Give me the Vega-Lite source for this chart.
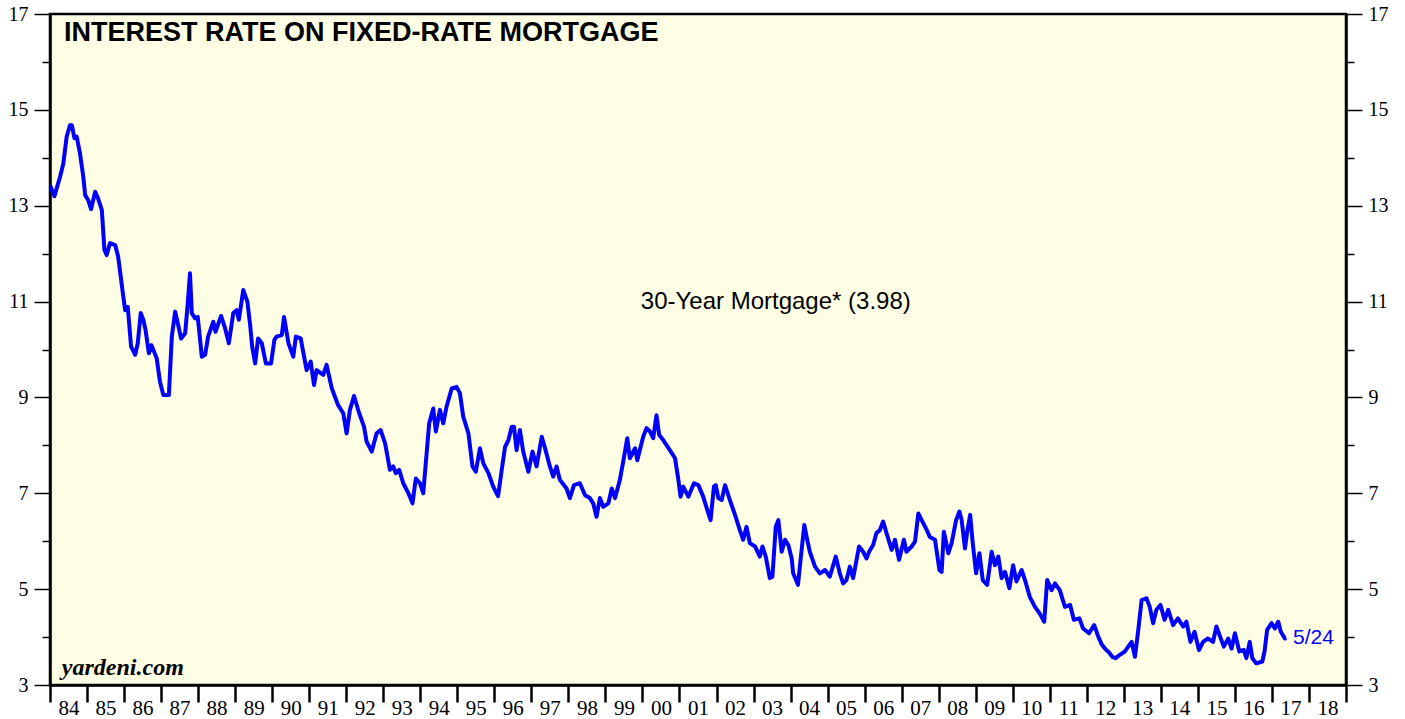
{
 "$schema": "https://vega.github.io/schema/vega-lite/v6.json",
 "width": 1296,
 "height": 671,
 "autosize": {"type": "none"},
 "padding": {"left": 50, "top": 14, "right": 59, "bottom": 34},
 "background": "white",
 "view": {"fill": "#FEFEE4", "stroke": "black", "strokeWidth": 2.5},
 "config": {
  "axis": {"grid": false, "title": null, "domainColor": "black", "domainWidth": 2.5, "tickColor": "black", "labelColor": "black", "labelFont": "Liberation Serif"}
 },
 "layer": [
  {
   "data": {"values": [
  {"year":1984.00,"rate":13.43},{"year":1984.12,"rate":13.2},{"year":1984.27,"rate":13.6},{"year":1984.36,"rate":13.88},{"year":1984.45,"rate":14.44},{"year":1984.54,"rate":14.68},{"year":1984.59,"rate":14.68},{"year":1984.66,"rate":14.41},{"year":1984.72,"rate":14.44},{"year":1984.81,"rate":14.09},{"year":1984.90,"rate":13.6},{"year":1984.95,"rate":13.22},
  {"year":1985.03,"rate":13.12},{"year":1985.11,"rate":12.93},{"year":1985.22,"rate":13.29},{"year":1985.30,"rate":13.15},{"year":1985.40,"rate":12.91},{"year":1985.47,"rate":12.08},{"year":1985.53,"rate":11.97},{"year":1985.62,"rate":12.22},{"year":1985.76,"rate":12.18},{"year":1985.84,"rate":11.94},{"year":1985.98,"rate":11.1},
  {"year":1986.03,"rate":10.82},{"year":1986.10,"rate":10.89},{"year":1986.19,"rate":10.06},{"year":1986.30,"rate":9.89},{"year":1986.37,"rate":10.13},{"year":1986.45,"rate":10.76},{"year":1986.52,"rate":10.62},{"year":1986.58,"rate":10.41},{"year":1986.67,"rate":9.92},{"year":1986.74,"rate":10.09},{"year":1986.88,"rate":9.82},{"year":1986.97,"rate":9.33},
  {"year":1987.06,"rate":9.05},{"year":1987.21,"rate":9.05},{"year":1987.29,"rate":10.27},{"year":1987.38,"rate":10.79},{"year":1987.45,"rate":10.55},{"year":1987.54,"rate":10.23},{"year":1987.65,"rate":10.34},{"year":1987.72,"rate":10.96},{"year":1987.78,"rate":11.59},{"year":1987.83,"rate":10.76},{"year":1987.92,"rate":10.65},{"year":1987.99,"rate":10.68},
  {"year":1988.10,"rate":9.85},{"year":1988.19,"rate":9.89},{"year":1988.27,"rate":10.27},{"year":1988.41,"rate":10.58},{"year":1988.47,"rate":10.37},{"year":1988.62,"rate":10.7},{"year":1988.73,"rate":10.44},{"year":1988.83,"rate":10.13},{"year":1988.95,"rate":10.76},
  {"year":1989.04,"rate":10.82},{"year":1989.10,"rate":10.62},{"year":1989.22,"rate":11.24},{"year":1989.33,"rate":11.0},{"year":1989.40,"rate":10.55},{"year":1989.46,"rate":10.06},{"year":1989.54,"rate":9.71},{"year":1989.62,"rate":10.23},{"year":1989.72,"rate":10.13},{"year":1989.83,"rate":9.71},{"year":1989.97,"rate":9.71},
  {"year":1990.06,"rate":10.2},{"year":1990.12,"rate":10.27},{"year":1990.26,"rate":10.3},{"year":1990.32,"rate":10.68},{"year":1990.44,"rate":10.13},{"year":1990.57,"rate":9.85},{"year":1990.64,"rate":10.27},{"year":1990.77,"rate":10.23},{"year":1990.93,"rate":9.57},
  {"year":1991.04,"rate":9.75},{"year":1991.13,"rate":9.26},{"year":1991.20,"rate":9.57},{"year":1991.38,"rate":9.47},{"year":1991.47,"rate":9.68},{"year":1991.61,"rate":9.19},{"year":1991.78,"rate":8.84},{"year":1991.92,"rate":8.67},
  {"year":1992.01,"rate":8.25},{"year":1992.10,"rate":8.74},{"year":1992.21,"rate":9.03},{"year":1992.35,"rate":8.67},{"year":1992.48,"rate":8.39},{"year":1992.55,"rate":8.08},{"year":1992.69,"rate":7.87},{"year":1992.82,"rate":8.25},{"year":1992.93,"rate":8.32},
  {"year":1993.05,"rate":8.04},{"year":1993.18,"rate":7.49},{"year":1993.27,"rate":7.56},{"year":1993.34,"rate":7.42},{"year":1993.43,"rate":7.49},{"year":1993.54,"rate":7.21},{"year":1993.68,"rate":7.0},{"year":1993.79,"rate":6.79},{"year":1993.88,"rate":7.31},{"year":1993.99,"rate":7.21},
  {"year":1994.08,"rate":7.0},{"year":1994.24,"rate":8.46},{"year":1994.35,"rate":8.77},{"year":1994.42,"rate":8.29},{"year":1994.53,"rate":8.74},{"year":1994.62,"rate":8.46},{"year":1994.71,"rate":8.81},{"year":1994.85,"rate":9.19},{"year":1994.98,"rate":9.22},
  {"year":1995.07,"rate":9.09},{"year":1995.16,"rate":8.6},{"year":1995.30,"rate":8.25},{"year":1995.41,"rate":7.56},{"year":1995.50,"rate":7.45},{"year":1995.61,"rate":7.94},{"year":1995.70,"rate":7.63},{"year":1995.84,"rate":7.42},{"year":1995.97,"rate":7.14},
  {"year":1996.06,"rate":7.0},{"year":1996.10,"rate":6.94},{"year":1996.20,"rate":7.49},{"year":1996.29,"rate":7.97},{"year":1996.38,"rate":8.11},{"year":1996.47,"rate":8.39},{"year":1996.53,"rate":8.39},{"year":1996.60,"rate":7.9},{"year":1996.69,"rate":8.32},{"year":1996.78,"rate":7.87},{"year":1996.92,"rate":7.45},
  {"year":1997.03,"rate":7.87},{"year":1997.14,"rate":7.56},{"year":1997.28,"rate":8.18},{"year":1997.37,"rate":7.94},{"year":1997.50,"rate":7.56},{"year":1997.59,"rate":7.35},{"year":1997.68,"rate":7.56},{"year":1997.77,"rate":7.28},{"year":1997.95,"rate":7.1},
  {"year":1998.04,"rate":6.9},{"year":1998.15,"rate":7.17},{"year":1998.31,"rate":7.21},{"year":1998.45,"rate":6.96},{"year":1998.58,"rate":6.9},{"year":1998.67,"rate":6.79},{"year":1998.76,"rate":6.51},{"year":1998.85,"rate":6.9},{"year":1998.94,"rate":6.72},
  {"year":1999.08,"rate":6.79},{"year":1999.17,"rate":7.1},{"year":1999.26,"rate":6.9},{"year":1999.39,"rate":7.28},{"year":1999.48,"rate":7.66},{"year":1999.59,"rate":8.15},{"year":1999.66,"rate":7.73},{"year":1999.80,"rate":7.94},{"year":1999.86,"rate":7.69},
  {"year":2000.02,"rate":8.18},{"year":2000.11,"rate":8.36},{"year":2000.20,"rate":8.29},{"year":2000.29,"rate":8.15},{"year":2000.38,"rate":8.63},{"year":2000.45,"rate":8.22},{"year":2000.56,"rate":8.11},{"year":2000.74,"rate":7.9},{"year":2000.88,"rate":7.73},{"year":2000.97,"rate":7.28},
  {"year":2001.03,"rate":6.93},{"year":2001.10,"rate":7.14},{"year":2001.24,"rate":6.93},{"year":2001.39,"rate":7.21},{"year":2001.51,"rate":7.17},{"year":2001.64,"rate":6.93},{"year":2001.78,"rate":6.58},{"year":2001.84,"rate":6.44},{"year":2001.93,"rate":7.14},{"year":2001.98,"rate":7.17},
  {"year":2002.05,"rate":6.9},{"year":2002.14,"rate":6.86},{"year":2002.23,"rate":7.17},{"year":2002.36,"rate":6.86},{"year":2002.50,"rate":6.55},{"year":2002.63,"rate":6.23},{"year":2002.72,"rate":6.03},{"year":2002.81,"rate":6.3},{"year":2002.90,"rate":5.96},
  {"year":2003.04,"rate":5.89},{"year":2003.17,"rate":5.68},{"year":2003.24,"rate":5.89},{"year":2003.33,"rate":5.68},{"year":2003.44,"rate":5.23},{"year":2003.51,"rate":5.26},{"year":2003.60,"rate":6.3},{"year":2003.67,"rate":6.44},{"year":2003.76,"rate":5.78},{"year":2003.85,"rate":6.03},{"year":2003.94,"rate":5.92},
  {"year":2004.03,"rate":5.64},{"year":2004.07,"rate":5.33},{"year":2004.20,"rate":5.09},{"year":2004.27,"rate":5.61},{"year":2004.37,"rate":6.34},{"year":2004.45,"rate":6.03},{"year":2004.52,"rate":5.78},{"year":2004.66,"rate":5.47},{"year":2004.79,"rate":5.33},{"year":2004.93,"rate":5.4},
  {"year":2005.06,"rate":5.26},{"year":2005.22,"rate":5.68},{"year":2005.33,"rate":5.33},{"year":2005.42,"rate":5.12},{"year":2005.51,"rate":5.19},{"year":2005.60,"rate":5.47},{"year":2005.69,"rate":5.23},{"year":2005.85,"rate":5.89},{"year":2005.96,"rate":5.78},
  {"year":2006.05,"rate":5.64},{"year":2006.12,"rate":5.78},{"year":2006.23,"rate":5.92},{"year":2006.32,"rate":6.17},{"year":2006.41,"rate":6.23},{"year":2006.50,"rate":6.41},{"year":2006.59,"rate":6.17},{"year":2006.73,"rate":5.82},{"year":2006.82,"rate":6.03},{"year":2006.93,"rate":5.61},
  {"year":2007.06,"rate":6.03},{"year":2007.13,"rate":5.78},{"year":2007.27,"rate":5.89},{"year":2007.36,"rate":5.99},{"year":2007.45,"rate":6.58},{"year":2007.54,"rate":6.44},{"year":2007.68,"rate":6.23},{"year":2007.76,"rate":6.09},{"year":2007.90,"rate":6.03},
  {"year":2008.02,"rate":5.4},{"year":2008.08,"rate":5.36},{"year":2008.14,"rate":6.2},{"year":2008.26,"rate":5.75},{"year":2008.35,"rate":5.96},{"year":2008.47,"rate":6.44},{"year":2008.56,"rate":6.62},{"year":2008.62,"rate":6.44},{"year":2008.71,"rate":5.85},{"year":2008.77,"rate":6.2},{"year":2008.85,"rate":6.55},{"year":2008.92,"rate":5.96},
  {"year":2009.01,"rate":5.33},{"year":2009.10,"rate":5.75},{"year":2009.19,"rate":5.19},{"year":2009.31,"rate":5.09},{"year":2009.43,"rate":5.78},{"year":2009.52,"rate":5.5},{"year":2009.61,"rate":5.68},{"year":2009.70,"rate":5.23},{"year":2009.79,"rate":5.36},{"year":2009.91,"rate":5.02},
  {"year":2010.01,"rate":5.5},{"year":2010.10,"rate":5.16},{"year":2010.24,"rate":5.4},{"year":2010.33,"rate":5.19},{"year":2010.46,"rate":4.84},{"year":2010.60,"rate":4.63},{"year":2010.73,"rate":4.49},{"year":2010.85,"rate":4.32},{"year":2010.93,"rate":5.19},
  {"year":2011.05,"rate":4.98},{"year":2011.14,"rate":5.12},{"year":2011.27,"rate":4.98},{"year":2011.41,"rate":4.63},{"year":2011.55,"rate":4.67},{"year":2011.65,"rate":4.36},{"year":2011.80,"rate":4.39},{"year":2011.90,"rate":4.18},
  {"year":2012.06,"rate":4.08},{"year":2012.20,"rate":4.25},{"year":2012.31,"rate":4.01},{"year":2012.40,"rate":3.85},{"year":2012.50,"rate":3.75},{"year":2012.60,"rate":3.68},{"year":2012.70,"rate":3.58},{"year":2012.78,"rate":3.56},{"year":2012.89,"rate":3.63},
  {"year":2013.03,"rate":3.7},{"year":2013.21,"rate":3.9},{"year":2013.30,"rate":3.59},{"year":2013.39,"rate":4.15},{"year":2013.48,"rate":4.77},{"year":2013.61,"rate":4.81},{"year":2013.70,"rate":4.63},{"year":2013.79,"rate":4.29},{"year":2013.88,"rate":4.57},{"year":2013.99,"rate":4.67},
  {"year":2014.10,"rate":4.36},{"year":2014.20,"rate":4.57},{"year":2014.33,"rate":4.25},{"year":2014.46,"rate":4.39},{"year":2014.60,"rate":4.22},{"year":2014.69,"rate":4.32},{"year":2014.80,"rate":3.9},{"year":2014.91,"rate":4.11},
  {"year":2015.03,"rate":3.73},{"year":2015.14,"rate":3.9},{"year":2015.27,"rate":3.97},{"year":2015.41,"rate":3.9},{"year":2015.50,"rate":4.22},{"year":2015.60,"rate":4.01},{"year":2015.70,"rate":3.8},{"year":2015.82,"rate":3.97},{"year":2015.91,"rate":3.76},
  {"year":2016.00,"rate":4.08},{"year":2016.12,"rate":3.7},{"year":2016.24,"rate":3.73},{"year":2016.31,"rate":3.56},{"year":2016.40,"rate":3.9},{"year":2016.47,"rate":3.56},{"year":2016.58,"rate":3.45},{"year":2016.74,"rate":3.49},{"year":2016.80,"rate":3.7},{"year":2016.87,"rate":4.15},{"year":2016.99,"rate":4.29},
  {"year":2017.08,"rate":4.18},{"year":2017.17,"rate":4.32},{"year":2017.24,"rate":4.11},{"year":2017.35,"rate":3.97},{"year":2017.39,"rate":3.98}
   ]},
   "mark": {"type": "line", "color": "#0000FF", "strokeWidth": 4, "strokeJoin": "round", "clip": true},
   "encoding": {
    "x": {"field": "year", "type": "quantitative",
     "scale": {"domain": [1984, 2019], "nice": false, "zero": false},
     "axis": {"orient": "bottom", "values": [1984,1985,1986,1987,1988,1989,1990,1991,1992,1993,1994,1995,1996,1997,1998,1999,2000,2001,2002,2003,2004,2005,2006,2007,2008,2009,2010,2011,2012,2013,2014,2015,2016,2017,2018,2019],
      "labelExpr": "datum.value >= 2019 ? '' : substring(toString(datum.value), 2, 4)",
      "labelOffset": 18.5, "labelFlush": false, "labelOverlap": false, "labelBound": false,
      "tickSize": 17, "tickWidth": 2.5, "labelPadding": -5, "labelFontSize": 21, "labelBaseline": "top"}},
    "y": {"field": "rate", "type": "quantitative",
     "scale": {"domain": [3, 17], "nice": false, "zero": false},
     "axis": {"orient": "left", "values": [3,4,5,6,7,8,9,10,11,12,13,14,15,16,17],
      "labelExpr": "datum.value % 2 == 1 ? datum.label : ''",
      "tickSize": {"condition": {"test": "datum.value % 2 == 0", "value": 8}, "value": 16},
      "tickWidth": 1.5, "labelPadding": 6, "labelFontSize": 20}}
   }
  },
  {
   "data": {"values": [{"label": "30-Year Mortgage* (3.98)"}]},
   "mark": {"type": "text", "align": "center", "baseline": "middle", "font": "Liberation Sans", "fontSize": 24, "color": "black"},
   "encoding": {
    "text": {"field": "label"},
    "x": {"datum": 2003.6, "type": "quantitative", "axis": null},
    "y": {"datum": 11.0, "type": "quantitative",
     "axis": {"orient": "right", "values": [3,4,5,6,7,8,9,10,11,12,13,14,15,16,17],
      "labelExpr": "datum.value % 2 == 1 ? datum.label : ''",
      "tickSize": {"condition": {"test": "datum.value % 2 == 0", "value": 8}, "value": 16},
      "tickWidth": 1.5, "labelPadding": 6, "labelFontSize": 20}}
   }
  },
  {
   "data": {"values": [{"label": "INTEREST RATE ON FIXED-RATE MORTGAGE"}]},
   "mark": {"type": "text", "align": "left", "baseline": "middle", "font": "Liberation Sans", "fontWeight": "bold", "fontSize": 27, "color": "black"},
   "encoding": {
    "text": {"field": "label"},
    "x": {"datum": 1984.38, "type": "quantitative", "axis": null},
    "y": {"datum": 16.61, "type": "quantitative", "axis": null}
   }
  },
  {
   "data": {"values": [{"label": "yardeni.com"}]},
   "mark": {"type": "text", "align": "left", "baseline": "middle", "font": "Liberation Serif", "fontWeight": "bold", "fontStyle": "italic", "fontSize": 24, "color": "black"},
   "encoding": {
    "text": {"field": "label"},
    "x": {"datum": 1984.32, "type": "quantitative", "axis": null},
    "y": {"datum": 3.36, "type": "quantitative", "axis": null}
   }
  },
  {
   "data": {"values": [{"label": "5/24"}]},
   "mark": {"type": "text", "align": "left", "baseline": "middle", "font": "Liberation Sans", "fontSize": 21, "color": "#0000FF"},
   "encoding": {
    "text": {"field": "label"},
    "x": {"datum": 2017.57, "type": "quantitative", "axis": null},
    "y": {"datum": 3.98, "type": "quantitative", "axis": null}
   }
  }
 ],
 "resolve": {"axis": {"x": "independent", "y": "independent"}}
}
